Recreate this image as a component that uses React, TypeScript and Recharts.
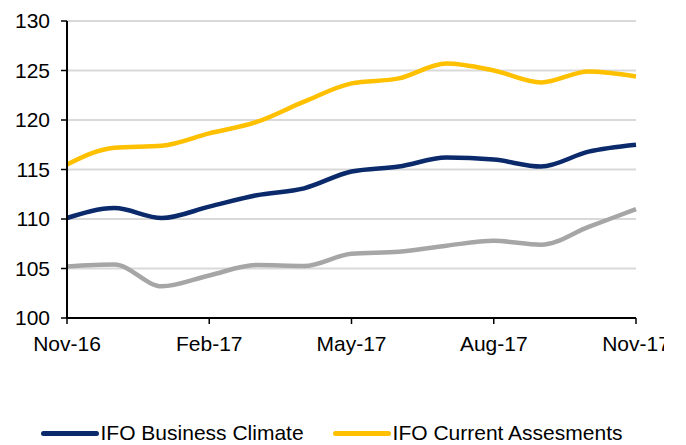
import React from 'react';
import {
  LineChart,
  Line,
  XAxis,
  YAxis,
  CartesianGrid,
  Legend,
} from 'recharts';

const months = [
  'Nov-16', 'Dec-16', 'Jan-17', 'Feb-17', 'Mar-17', 'Apr-17', 'May-17',
  'Jun-17', 'Jul-17', 'Aug-17', 'Sep-17', 'Oct-17', 'Nov-17',
];
const businessClimate = [110.1, 111.1, 110.1, 111.25, 112.4, 113.1, 114.8, 115.3, 116.2, 116.0, 115.3, 116.8, 117.5];
const currentAssessments = [115.5, 117.2, 117.4, 118.65, 119.8, 121.85, 123.7, 124.2, 125.7, 125.0, 123.8, 124.9, 124.4];
const expectations = [105.2, 105.4, 103.2, 104.3, 105.35, 105.25, 106.5, 106.7, 107.3, 107.8, 107.4, 109.2, 111.0];
const yTicks = [100, 105, 110, 115, 120, 125, 130];

const NAVY = '#0b2a6b';
const GOLD = '#ffc000';
const GREY = '#a6a6a6';
const FONT = '"Liberation Sans", Arial, sans-serif';

const data = months.map((month, i) => ({
  month,
  climate: businessClimate[i],
  current: currentAssessments[i],
  expectations: expectations[i],
}));

const legendItems = [
  { label: 'IFO Business Climate', color: NAVY },
  { label: 'IFO Current Assesments', color: GOLD },
];

// Excel-style legend: long thick line swatch, no gap to the text
const renderLegend = () => (
  <div
    style={{
      display: 'flex',
      justifyContent: 'center',
      alignItems: 'center',
      gap: 29,
      fontFamily: FONT,
      fontSize: 21,
      color: '#000',
      height: 24,
      paddingLeft: 10,
    }}
  >
    {legendItems.map((item) => (
      <div key={item.label} style={{ display: 'flex', alignItems: 'center', gap: 2 }}>
        <span
          style={{
            display: 'inline-block',
            width: 58,
            height: 5,
            borderRadius: 3,
            background: item.color,
          }}
        />
        <span>{item.label}</span>
      </div>
    ))}
  </div>
);

export default function App() {
  return (
    <div style={{ width: 656, height: 437, overflow: 'hidden' }}>
      <LineChart
        width={656}
        height={437}
        data={data}
        margin={{ top: 13, right: 28, left: 9, bottom: 0 }}
      >
        <CartesianGrid vertical={false} stroke="#d9d9d9" strokeWidth={2} />
        <XAxis
          dataKey="month"
          interval={2}
          height={103}
          tickSize={6}
          tickMargin={12}
          axisLine={{ stroke: '#000', strokeWidth: 2 }}
          tickLine={{ stroke: '#000', strokeWidth: 1.5 }}
          tick={{ fill: '#000', fontSize: 21, fontFamily: FONT }}
        />
        <YAxis
          domain={[100, 130]}
          ticks={yTicks}
          width={50}
          tickSize={6}
          tickMargin={11}
          axisLine={{ stroke: '#000', strokeWidth: 2 }}
          tickLine={{ stroke: '#000', strokeWidth: 1.5 }}
          tick={{ fill: '#000', fontSize: 21, fontFamily: FONT }}
        />
        <Legend verticalAlign="bottom" content={renderLegend} wrapperStyle={{ height: 24 }} />
        <Line
          type="monotone"
          dataKey="expectations"
          stroke={GREY}
          strokeWidth={4.5}
          dot={false}
          legendType="none"
          isAnimationActive={false}
        />
        <Line
          type="monotone"
          dataKey="current"
          name="IFO Current Assesments"
          stroke={GOLD}
          strokeWidth={4.5}
          dot={false}
          isAnimationActive={false}
        />
        <Line
          type="monotone"
          dataKey="climate"
          name="IFO Business Climate"
          stroke={NAVY}
          strokeWidth={4.5}
          dot={false}
          isAnimationActive={false}
        />
      </LineChart>
    </div>
  );
}
